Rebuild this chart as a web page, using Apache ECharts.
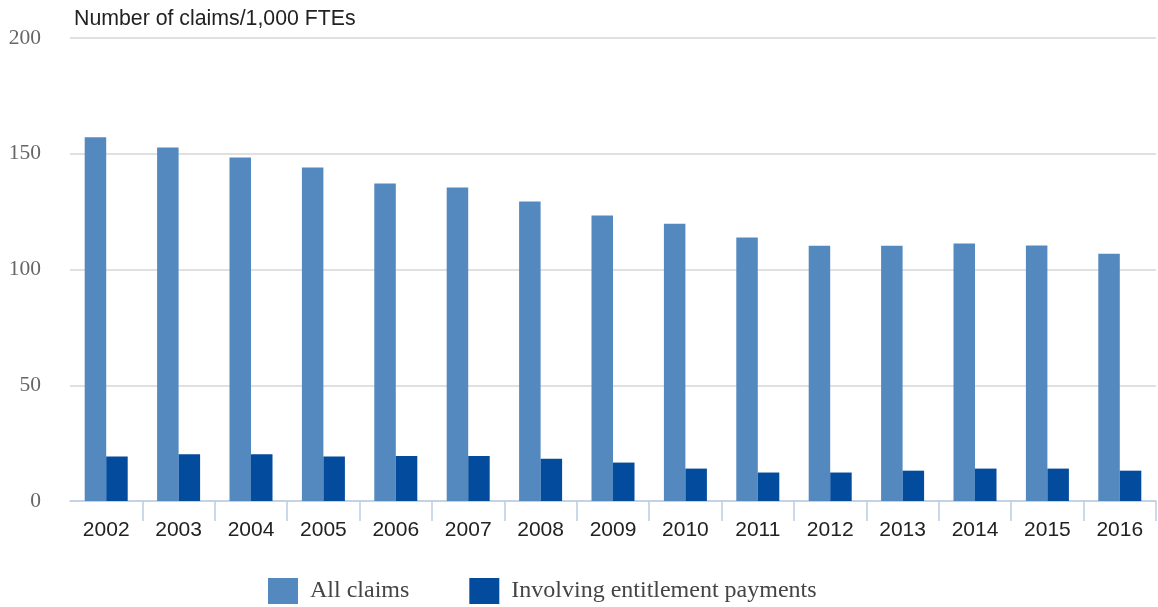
<!DOCTYPE html>
<html>
<head>
<meta charset="utf-8">
<script src="https://cdn.jsdelivr.net/npm/echarts@6/dist/echarts.min.js"></script>
<style>
  html, body { margin: 0; padding: 0; background: #fff; }
  #chart { width: 1158px; height: 607px; }
</style>
</head>
<body>
<div id="chart"></div>
<script>
// Claims per 1,000 full-time employees, by year
const years = ['2002','2003','2004','2005','2006','2007','2008','2009','2010','2011','2012','2013','2014','2015','2016'];
const allClaims = [157.1, 152.7, 148.4, 144.1, 137.2, 135.4, 129.4, 123.3, 119.8, 113.8, 110.3, 110.3, 111.2, 110.4, 106.8];
const entitlementClaims = [19.2, 20.2, 20.2, 19.2, 19.4, 19.4, 18.3, 16.6, 14.0, 12.3, 12.3, 13.1, 14.0, 14.0, 13.1];
const seriesNames = ['All claims', 'Involving entitlement payments'];
const unitLabel = 'Number of claims/1,000 FTEs';

const chart = echarts.init(document.getElementById('chart'), null, { renderer: 'canvas' });

chart.setOption({
  animation: false,
  color: ['#5489c0', '#034b9c'],
  title: {
    text: unitLabel,
    left: 69,
    top: 4,
    textStyle: { fontFamily: 'Liberation Sans, Arial, sans-serif', fontSize: 21.3, fontWeight: 'normal', color: '#222' }
  },
  legend: {
    data: seriesNames,
    left: 268,
    top: 578,
    padding: 0,
    itemWidth: 30,
    itemHeight: 26,
    itemGap: 60,
    icon: 'rect',
    textStyle: { fontFamily: 'Liberation Serif, Times New Roman, serif', fontSize: 24, color: '#444', padding: [0, 0, 0, 7] }
  },
  grid: { left: 70, right: 2, top: 38, bottom: 106, containLabel: false },
  xAxis: {
    type: 'category',
    data: years,
    boundaryGap: true,
    axisLine: { show: true, lineStyle: { color: '#bccde2', width: 1.5 } },
    axisTick: { show: true, length: 20, interval: (i) => i > 0, lineStyle: { color: '#bccde2', width: 1.5 } },
    axisLabel: { margin: 19, fontFamily: 'Liberation Sans, Arial, sans-serif', fontSize: 21, color: '#222' }
  },
  yAxis: {
    type: 'value',
    min: 0,
    max: 200,
    interval: 50,
    axisLine: { show: false },
    axisTick: { show: false },
    axisLabel: { margin: 29, fontFamily: 'Liberation Serif, Times New Roman, serif', fontSize: 21.5, color: '#666' },
    splitLine: { lineStyle: { color: '#d6d6d6', width: 1.5 } }
  },
  series: [
    { name: seriesNames[0], type: 'bar', data: allClaims, barWidth: 21.5, barGap: '0%' },
    { name: seriesNames[1], type: 'bar', data: entitlementClaims, barWidth: 21.5, barGap: '0%' }
  ]
});
</script>
</body>
</html>
